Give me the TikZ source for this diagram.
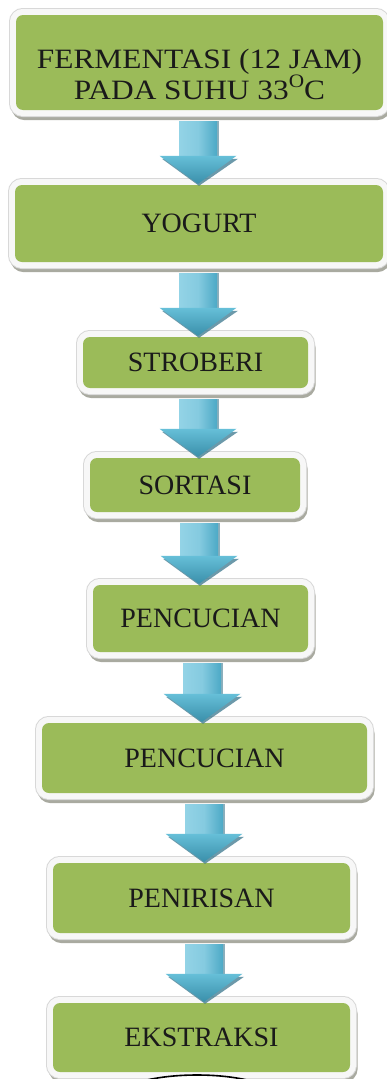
\documentclass[tikz,border=0pt]{standalone}
\usepackage{fontspec}
\setmainfont{Liberation Serif}
\usetikzlibrary{calc}

\definecolor{boxgreen}{HTML}{9BBB59}
\definecolor{textdark}{HTML}{1A1A1A}
\definecolor{framewhite}{HTML}{F7F7F7}
\definecolor{framegray}{HTML}{D8D8D8}
\definecolor{shadowgray}{HTML}{A9AAA0}
\definecolor{shaftlight}{HTML}{93D3E6}
\definecolor{shaftedge}{HTML}{4CA9C6}
\definecolor{headtop}{HTML}{66BFD8}
\definecolor{headbot}{HTML}{3A8FAA}
\definecolor{arrowdark}{HTML}{2E6F86}

\tikzset{
  stepbox/.style={rectangle, rounded corners=7pt, fill=boxgreen, text=textdark,
    align=center, inner sep=0pt, font=\fontsize{28}{26}\selectfont,
    preaction={draw=shadowgray, line width=12pt, transform canvas={xshift=1.5pt, yshift=-4pt}},
    preaction={draw=framegray, line width=14pt},
    preaction={draw=framewhite, line width=12pt}},
}

% block arrow from the box #1 down to the box #2, centred on x = #3
\newcommand\flowarrow[3]{%
  \path let \p1=(#1.south), \p2=(#2.north) in
    coordinate (st) at ({#3pt}, {\y1-11pt})
    coordinate (hd) at ({#3pt}, {\y2+29pt})
    coordinate (tp) at ({#3pt}, {\y2+1pt});
  \fill[arrowdark, opacity=0.55] ([xshift=17pt, yshift=0pt]st) rectangle ([xshift=21pt]hd);
  \shade[left color=shaftlight, right color=shaftedge, middle color=shaftlight!80!shaftedge]
    ([xshift=-19pt]st) rectangle ([xshift=19pt]hd);
  \fill[arrowdark, opacity=0.7] ([xshift=-36pt, yshift=-3pt]hd) -- ([xshift=40pt, yshift=-3pt]hd)
    -- ([xshift=1pt, yshift=-2pt]tp) -- cycle;
  \shade[top color=headtop, bottom color=headbot]
    ([xshift=-38.5pt]hd) -- ([xshift=38.5pt]hd) -- (tp) -- cycle;
}

\begin{document}
\begin{tikzpicture}[x=1pt, y=-1pt]
  \useasboundingbox (0,0) rectangle (387,1079);
  \clip (0,0) rectangle (387,1079);
  \fill[white] (0,0) rectangle (387,1079);

  \node[stepbox, minimum width=367pt, minimum height=95pt,
        font=\fontsize{28}{26}\selectfont\addfontfeatures{FakeStretch=1.12}] (ferm) at (199.5,62.5)
    {\rule{0pt}{43pt}FERMENTASI (12 JAM)\\PADA SUHU 33\raisebox{0.42em}{\fontsize{19}{19}\selectfont O}C};
  \node[stepbox, minimum width=368pt, minimum height=77pt] (yog) at (199,223.5) {YOGURT};
  \node[stepbox, minimum width=225pt, minimum height=51pt] (strob) at (195.5,362.5) {STROBERI};
  \node[stepbox, minimum width=210pt, minimum height=54pt] (sort) at (195,485) {SORTASI};
  \node[stepbox, minimum width=215pt, minimum height=67pt] (cuci1) at (200.5,618.5) {PENCUCIAN};
  \node[stepbox, minimum width=325pt, minimum height=70pt] (cuci2) at (204.5,758) {PENCUCIAN};
  \node[stepbox, minimum width=297pt, minimum height=70pt] (tiris) at (201.5,898) {PENIRISAN};
  \node[stepbox, minimum width=297pt, minimum height=69pt] (ekstr) at (201.5,1037.5) {EKSTRAKSI};

  % partly visible outline below the last step
  \draw[black, line width=1.6pt, fill=white] (197,1101) ellipse [x radius=85, y radius=26];

  \flowarrow{ferm}{yog}{198}
  \flowarrow{yog}{strob}{198}
  \flowarrow{strob}{sort}{198}
  \flowarrow{sort}{cuci1}{199}
  \flowarrow{cuci1}{cuci2}{202}
  \flowarrow{cuci2}{tiris}{204}
  \flowarrow{tiris}{ekstr}{204}
\end{tikzpicture}
\end{document}
